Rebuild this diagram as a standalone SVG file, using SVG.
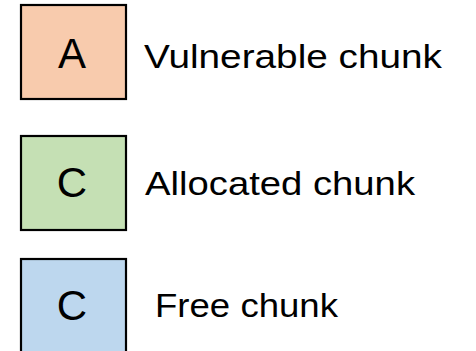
<svg xmlns="http://www.w3.org/2000/svg" width="476" height="351" viewBox="0 0 476 351">
<style>
.box{stroke:#000;stroke-width:2.2}
.letter{font-family:"Liberation Sans",Arial,sans-serif;font-size:42px;fill:#000;text-anchor:middle}
.label{font-family:"Liberation Sans",Arial,sans-serif;font-size:33px;fill:#000}
</style>
<rect width="476" height="351" fill="#fff"/>
<g id="vulnerable">
<rect class="box" x="21" y="5" width="105" height="94" fill="#F8CBAD"/>
<text class="letter" x="72" y="68">A</text>
<text class="label" x="144" y="68" textLength="298" lengthAdjust="spacingAndGlyphs">Vulnerable chunk</text>
</g>
<g id="allocated">
<rect class="box" x="21" y="136" width="105" height="94" fill="#C5E0B4"/>
<text class="letter" x="72" y="197">C</text>
<text class="label" x="145" y="195" textLength="270" lengthAdjust="spacingAndGlyphs">Allocated chunk</text>
</g>
<g id="free">
<rect class="box" x="21" y="259" width="105" height="94" fill="#BDD7EE"/>
<text class="letter" x="72" y="320">C</text>
<text class="label" x="155" y="317" textLength="183" lengthAdjust="spacingAndGlyphs">Free chunk</text>
</g>
<g id="connectors"/>
</svg>
